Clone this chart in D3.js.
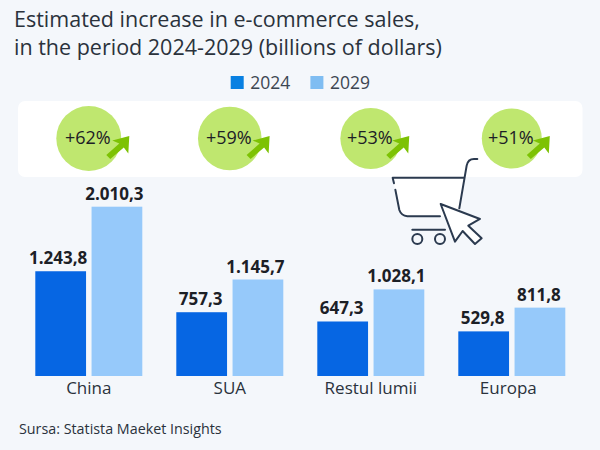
<!DOCTYPE html>
<html>
<head>
<meta charset="utf-8">
<script src="https://cdn.jsdelivr.net/npm/d3@7"></script>
<style>
	html, body { margin: 0; padding: 0; background: #f4f7fb; }
	text { font-family: "Open Sans", sans-serif; }
</style>
</head>
<body>
<div id="chart"></div>
<script>
// data
var categories = ["China", "SUA", "Restul lumii", "Europa"];
var years = ["2024", "2029"];
var values2024 = [1243.8, 757.3, 647.3, 529.8];
var values2029 = [2010.3, 1145.7, 1028.1, 811.8];
var growth = [62, 59, 53, 51];
var titleLines = ["Estimated increase in e-commerce sales,", "in the period 2024-2029 (billions of dollars)"];
var sourceText = "Sursa: Statista Maeket Insights";

var width = 600;
var height = 450;
var colors = { "2024": "#0666e3", "2029": "#96c9fa" };
var legendColors = { "2024": "#0880e2", "2029": "#7fbdf2" };
var ink = "#2a323c";
var inkDark = "#1c2026";

var svg = d3.select("#chart").append("svg")
	.attr("width", width)
	.attr("height", height)
	.style("display", "block");

svg.append("rect")
	.attr("width", width)
	.attr("height", height)
	.attr("fill", "#f4f7fb");

// 目盛り
var x = d3.scaleBand()
	.domain(categories)
	.range([18.3, 582.3])
	.paddingInner(34 / 141)
	.paddingOuter(17 / 141);

var xYear = d3.scaleBand()
	.domain(years)
	.range([0, x.bandwidth()])
	.paddingInner(5.5 / 56.25);

var y = d3.scaleLinear()
	.domain([0, 2010.3])
	.range([376, 206.7]);

var r = d3.scaleLinear()
	.domain([51, 62])
	.range([30, 32.5]);

// title
svg.selectAll(".title")
	.data(titleLines)
	.enter().append("text")
	.attr("class", "title")
	.attr("x", 14)
	.attr("y", function(d, i) { return 26.5 + i * 28; })
	.attr("font-size", 21.5)
	.attr("fill", ink)
	.text(function(d) { return d; });

// legend
var legend = svg.selectAll(".legend")
	.data(years)
	.enter().append("g")
	.attr("class", "legend")
	.attr("transform", function(d, i) { return "translate(" + (230.7 + i * 79.7) + ",76)"; });

legend.append("rect")
	.attr("width", 13)
	.attr("height", 13)
	.attr("fill", function(d) { return legendColors[d]; });

legend.append("text")
	.attr("x", 19.5)
	.attr("y", 13)
	.attr("font-size", 17.5)
	.attr("fill", "#3c4652")
	.text(function(d) { return d; });

// panel
svg.append("rect")
	.attr("x", 18)
	.attr("y", 101)
	.attr("width", 564.5)
	.attr("height", 76)
	.attr("rx", 7)
	.attr("fill", "#ffffff");

// growth badges
var badge = svg.selectAll(".badge")
	.data(categories)
	.enter().append("g")
	.attr("class", "badge")
	.attr("transform", function(d) { return "translate(" + (x(d) + x.bandwidth() / 2) + ",138.5)"; });

badge.append("circle")
	.attr("r", function(d, i) { return r(growth[i]); })
	.attr("fill", "#bfe76f");

badge.append("path")
	.attr("transform", function(d, i) { return "translate(" + (r(growth[i]) + 8) + ",-2.5)"; })
	.attr("d", "M0,0 L-17,4.5 L-10,7.5 L-23,19 L-19,23 L-5.5,11.5 L-1,17.5 Z")
	.attr("fill", "#7dc204");

badge.append("text")
	.attr("x", -1)
	.attr("y", 5)
	.attr("text-anchor", "middle")
	.attr("font-size", 18)
	.attr("fill", inkDark)
	.text(function(d, i) { return "+" + growth[i] + "%"; });

// cart icon
var cart = svg.append("g")
	.attr("transform", "translate(320,95) scale(0.3333)")
	.attr("fill", "none")
	.attr("stroke", "#2b3a4f")
	.attr("stroke-width", 6)
	.attr("stroke-linecap", "round")
	.attr("stroke-linejoin", "round");

cart.append("path")
	.attr("d", "M218,248 H432 L418,364 H262 Q244,362 238,345 Z")
	.attr("fill", "#ffffff")
	.attr("stroke", "none");
cart.append("path").attr("d", "M222,265 L218,248 H432");
cart.append("path").attr("d", "M226,284 L238,345 Q244,362 262,364 H360");
cart.append("path").attr("d", "M472,192 H462 Q444,192 440,212 L418,340");
cart.append("path").attr("d", "M277,404 H375");
cart.append("circle").attr("cx", 292).attr("cy", 432).attr("r", 15);
cart.append("circle").attr("cx", 360).attr("cy", 432).attr("r", 15);
cart.append("path")
	.attr("d", "M362,327 L480,372 L445,392 L485,430 L465,447 L428,408 L405,440 Z")
	.attr("fill", "#ffffff");

// bars
var group = svg.selectAll(".group")
	.data(categories)
	.enter().append("g")
	.attr("class", "group")
	.attr("transform", function(d) { return "translate(" + x(d) + ",0)"; });

years.forEach(function(year) {
	var vals = year == "2024" ? values2024 : values2029;

	group.append("rect")
		.attr("x", xYear(year))
		.attr("y", function(d, i) { return y(vals[i]); })
		.attr("width", xYear.bandwidth())
		.attr("height", function(d, i) { return y(0) - y(vals[i]); })
		.attr("fill", colors[year]);

	group.append("text")
		.attr("x", function(d, i) { return xYear(year) + xYear.bandwidth() / 2 - (vals[i] >= 1000 ? 2.5 : 1); })
		.attr("y", function(d, i) { return y(vals[i]) - 7; })
		.attr("text-anchor", "middle")
		.attr("font-size", 17)
		.attr("font-weight", 700)
		.attr("fill", inkDark)
		.text(function(d, i) { return d3.format(",.1f")(vals[i]).replace(/,/g, "#").replace(".", ",").replace(/#/g, "."); });
});

// x axis
var axis = svg.append("g")
	.attr("transform", "translate(0,376)")
	.call(d3.axisBottom(x).tickSize(0).tickPadding(6));
axis.select(".domain").remove();
axis.selectAll("text")
	.style("font-family", '"Open Sans", sans-serif')
	.style("font-size", "17px")
	.attr("dx", function(d) { return d == "Europa" ? -3.5 : 0; })
	.attr("fill", ink);

// source
svg.append("text")
	.attr("x", 19)
	.attr("y", 434)
	.attr("font-size", 14.3)
	.attr("fill", ink)
	.text(sourceText);
</script>
</body>
</html>
